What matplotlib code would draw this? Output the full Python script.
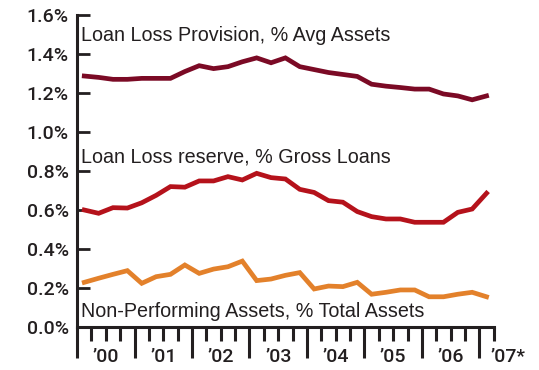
import matplotlib
matplotlib.use("Agg")
from matplotlib import pyplot as plt
import numpy as np

plt.rcParams['font.family'] = ['Liberation Sans', 'DejaVu Sans']

# quarterly points, 2000 Q1 .. 2007 Q1
provision = [1.287, 1.28, 1.27, 1.27, 1.275, 1.275, 1.275, 1.31, 1.34, 1.325,
             1.335, 1.36, 1.38, 1.355, 1.38, 1.335, 1.32, 1.305, 1.295, 1.285,
             1.245, 1.235, 1.228, 1.22, 1.22, 1.195, 1.185, 1.165, 1.185]
reserve = [0.60, 0.583, 0.612, 0.61, 0.637, 0.675, 0.72, 0.717, 0.749, 0.749,
           0.771, 0.754, 0.788, 0.766, 0.759, 0.706, 0.69, 0.648, 0.64, 0.592,
           0.566, 0.554, 0.554, 0.537, 0.537, 0.537, 0.588, 0.605, 0.686]
npa = [0.229, 0.25, 0.27, 0.289, 0.224, 0.258, 0.27, 0.318, 0.275, 0.297,
       0.309, 0.338, 0.238, 0.246, 0.265, 0.279, 0.195, 0.21, 0.207, 0.229,
       0.168, 0.178, 0.19, 0.19, 0.155, 0.155, 0.168, 0.178, 0.155]
year_labels = ["’00", "’01", "’02", "’03", "’04", "’05", "’06", "’07*"]
y_ticks = [0.0, 0.2, 0.4, 0.6, 0.8, 1.0, 1.2, 1.4, 1.6]

x = np.arange(len(provision)) + 0.5
txt = "#231f20"
tick_font = dict(family=['Roboto', 'DejaVu Sans'], weight='medium', size=14)

fig = plt.figure(figsize=(5.39, 3.70), dpi=100)
ax = fig.add_axes([0.143, 0.1162, 0.773, 0.8433])

ax.plot(x, provision, color="#7b0a25", lw=3.4, solid_joinstyle='miter')
ax.plot(x, reserve, color="#b5121b", lw=3.4, solid_joinstyle='miter')
ax.plot(x, npa, color="#e3812b", lw=3.4, solid_joinstyle='miter')

ax.set_xlim(0, 29)
ax.set_ylim(0, 1.6)

for s in ['top', 'right']:
    ax.spines[s].set_visible(False)
for s in ['left', 'bottom']:
    ax.spines[s].set_linewidth(2.2)
    ax.spines[s].set_color(txt)

ax.set_yticks(y_ticks)
ax.set_yticklabels(["%.1f%%" % v for v in y_ticks], fontdict=tick_font)
ax.tick_params(axis='y', direction='in', length=9, width=2, color=txt,
               labelcolor=txt, pad=6)

ax.set_xticks(np.arange(0, 29, 4))
ax.set_xticks(np.arange(1, 30), minor=True)
ax.tick_params(axis='x', which='major', direction='out', length=22, width=2.2,
               color=txt, labelbottom=False)
ax.tick_params(axis='x', which='minor', direction='out', length=10, width=2.2,
               color=txt)
for i, lab in enumerate(year_labels):
    ax.text(4 * i + 2, -0.097, lab, transform=ax.get_xaxis_transform(),
            ha='center', va='center', color=txt, clip_on=False, **tick_font)

ax.text(0.25, 1.467, "Loan Loss Provision, % Avg Assets", fontsize=14.2,
        color=txt, va='baseline')
ax.text(0.25, 0.846, "Loan Loss reserve, % Gross Loans", fontsize=14.2,
        color=txt, va='baseline')
ax.text(0.25, 0.053, "Non-Performing Assets, % Total Assets", fontsize=14.2,
        color=txt, va='baseline')

fig.savefig("out.png", dpi=100)
